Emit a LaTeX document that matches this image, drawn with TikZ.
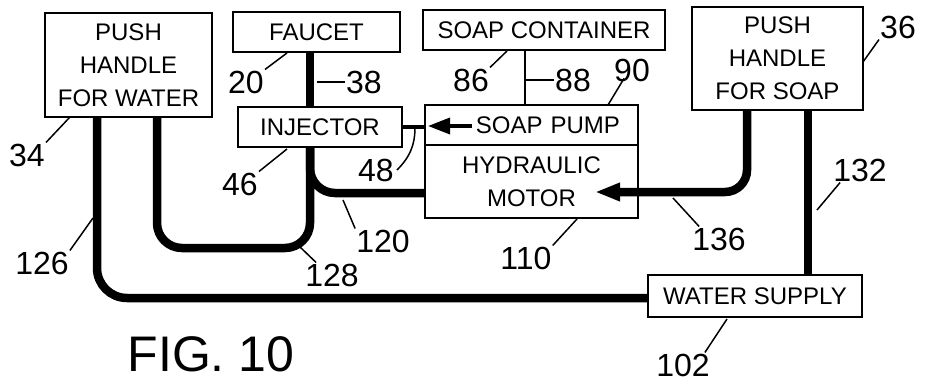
\documentclass[tikz,border=0pt]{standalone}
\usepackage{fontspec}
\setmainfont{Liberation Sans}
\usetikzlibrary{arrows.meta}
\begin{document}
\begin{tikzpicture}[x=1pt,y=-1pt,
  box/.style={draw,line width=1.8pt,rectangle,inner sep=0pt,align=center,
    font=\fontsize{24}{33}\selectfont},
  num/.style={inner sep=1pt,font=\fontsize{32}{32}\selectfont},
  pipe/.style={line width=8.5pt},
  thinpipe/.style={line width=2.2pt},
  lead/.style={line width=1.5pt}]
\useasboundingbox (0,0) rectangle (932,385);
% boxes
\node[box,minimum width=167pt,minimum height=104pt] (pw) at (128.5,65) {PUSH\\HANDLE\\FOR WATER};
\node[box,minimum width=167pt,minimum height=40pt] (faucet) at (316.5,32) {FAUCET};
\node[box,minimum width=164pt,minimum height=40pt] (inj) at (320,127) {INJECTOR};
\node[box,minimum width=242pt,minimum height=40pt] (soapc) at (544,30) {SOAP CONTAINER};
\node[box,minimum height=40pt,inner xsep=18pt,text width=177pt,align=right] (pump) at (531.5,125) {SOAP PUMP};
\node[box,minimum width=213pt,minimum height=73pt] (motor) at (531.5,181.5) {HYDRAULIC\\MOTOR};
\node[box,minimum width=171pt,minimum height=103pt] (ps) at (777.5,58.5) {PUSH\\HANDLE\\FOR SOAP};
\node[box,minimum width=214pt,minimum height=42pt] (water) at (755,296) {WATER SUPPLY};
% helper coordinates
\coordinate (cA) at (97,0);
\coordinate (cB) at (157,0);
\coordinate (cC) at (310,0);
\coordinate (cD) at (747,0);
\coordinate (cE) at (808,0);
\coordinate (cF) at (525,0);
\coordinate (b128) at (0,248);
\coordinate (b120) at (0,193);
\coordinate (b126) at (0,298);
\coordinate (t136) at (595,192);
\coordinate (s48) at (472,126);
\coordinate (t48) at (428,126);
% pipes
\draw[pipe] (faucet.south -| cC) -- (inj.north -| cC);
\draw[pipe,rounded corners=25pt] (pw.south -| cB) |- (b128 -| cC) -- (inj.south -| cC);
\draw[pipe,rounded corners=25pt] (inj.south -| cC) |- (motor.west |- b120);
\draw[pipe,rounded corners=30pt] (pw.south -| cA) |- (water.west |- b126);
\draw[pipe] (ps.south -| cE) -- (water.north -| cE);
\draw[pipe,rounded corners=22pt,-{Triangle[length=25pt,width=17pt]}] (ps.south -| cD) |- (t136);
\draw[line width=3.5pt] (inj.east) -- (inj.east -| pump.west);
\draw[line width=3.5pt,-{Triangle[length=22pt,width=16pt]}] (s48) -- (t48);
\draw[thinpipe] (soapc.south -| cF) -- (pump.north -| cF);
% labels
\node[num] (l34) at (27,155) {34};
\node[num] (l20) at (246,82) {20};
\node[num] (l38) at (364,82) {38};
\node[num] (l46) at (240,184) {46};
\node[num] (l48) at (376,170) {48};
\node[num] (l86) at (471,80) {86};
\node[num] (l88) at (573,80) {88};
\node[num] (l90) at (632,70) {90};
\node[num] (l36) at (898,27) {36};
\node[num] (l120) at (383,241) {120};
\node[num] (l128) at (332,275) {128};
\node[num] (l126) at (42,263) {126};
\node[num] (l110) at (526,258) {110};
\node[num] (l136) at (719,239) {136};
\node[num] (l132) at (860,170) {132};
\node[num] (l102) at (683,365) {102};
\node[font=\fontsize{50}{50}\selectfont] (fig) at (211,354) {FIG. 10};
% leader starts
\coordinate (c34) at (70,117);
\coordinate (c20) at (287,53);
\coordinate (c38) at (317,82);
\coordinate (c46) at (287,149);
\coordinate (c48) at (415,127);
\coordinate (c86) at (507,51);
\coordinate (c88) at (525,80);
\coordinate (c90) at (608,105);
\coordinate (c36) at (863,62);
\coordinate (c120) at (343,200);
\coordinate (c128) at (300,247);
\coordinate (c126) at (93,218);
\coordinate (c110) at (577,219);
\coordinate (c136) at (673,198);
\coordinate (c132) at (817,210);
\coordinate (c102) at (727,319);
% leaders
\draw[lead] (c34) -- (l34.north east);
\draw[lead] (c20) -- (l20.north east);
\draw[lead] (c38) -- (l38.west);
\draw[lead] (c46) -- (l46.north east);
\draw[lead] (c48) to[out=-90,in=45] ([xshift=2pt]l48.east);
\draw[lead] (c86) -- (l86.north east);
\draw[lead] (c88) -- (l88.west);
\draw[lead] (c90) -- ([xshift=-8pt,yshift=4pt]l90.south);
\draw[lead] (c36) -- (l36.south west);
\draw[lead] (c120) -- (l120.north west);
\draw[lead] (c128) -- ([xshift=12pt]l128.north west);
\draw[lead] (c126) -- (l126.north east);
\draw[lead] (c110) -- (l110.north east);
\draw[lead] (c136) -- ([xshift=8pt]l136.north west);
\draw[lead] (c132) -- ([xshift=8pt]l132.south west);
\draw[lead] (c102) -- ([xshift=-6pt]l102.north east);
\end{tikzpicture}
\end{document}
